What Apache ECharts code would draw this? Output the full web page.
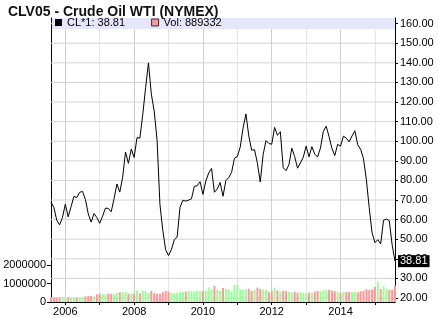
<!DOCTYPE html>
<html><head><meta charset="utf-8">
<script src="https://cdn.jsdelivr.net/npm/echarts@6/dist/echarts.min.js"></script>
<style>html,body{margin:0;padding:0;background:#fff}#c{width:438px;height:318px}</style>
</head><body><div id="c"></div>
<script>
// Monthly closes, Aug 2005 .. Aug 2015
const prices = [
  68.94, 66.24, 59.76, 57.32, 61.04,
  67.92, 61.41, 66.63, 71.88, 71.29, 73.93, 74.40, 70.26, 62.91, 58.73, 63.13, 61.05,
  58.14, 61.79, 65.87, 65.71, 64.01, 70.68, 78.21, 74.04, 81.66, 94.53, 88.71, 95.98,
  91.75, 101.84, 101.58, 113.46, 127.35, 140.00, 124.08, 115.46, 100.64, 67.81, 54.43, 44.60,
  41.68, 44.76, 49.66, 51.12, 66.31, 69.89, 69.45, 69.96, 70.61, 77.00, 77.28, 79.36,
  72.89, 79.66, 83.76, 86.15, 73.97, 75.63, 78.95, 71.92, 79.97, 81.43, 84.11, 91.38,
  92.19, 96.97, 106.72, 113.93, 102.70, 95.42, 95.70, 88.81, 79.20, 93.19, 100.36, 98.83,
  98.48, 107.07, 103.02, 104.87, 86.53, 84.96, 88.06, 96.47, 92.19, 86.24, 88.91, 91.82,
  97.49, 92.05, 97.23, 93.46, 91.97, 96.56, 105.03, 107.65, 102.33, 96.38, 92.72, 98.42,
  97.49, 102.59, 101.58, 99.74, 102.71, 105.37, 98.17, 95.96, 91.16, 80.54, 66.15, 53.27,
  48.24, 49.76, 47.60, 59.63, 60.30, 59.47, 47.12, 38.81
];
const volumes = [
  250000, 250000, 240000, 250000, 260000,
  250000, 240000, 250000, 250000, 240000, 250000, 240000, 300000, 320000, 330000, 300000, 420000,
  450000, 440000, 420000, 460000, 440000, 430000, 500000, 530000, 550000, 540000, 450000, 470000,
  470000, 640000, 470000, 620000, 600000, 500000, 600000, 480000, 440000, 430000, 540000, 610000,
  560000, 500000, 490000, 500000, 540000, 550000, 560000, 600000, 590000, 560000, 610000, 580000,
  600000, 620000, 800000, 680000, 870000, 650000, 600000, 750000, 700000, 680000, 560000, 920000,
  920000, 700000, 650000, 700000, 720000, 600000, 650000, 780000, 700000, 680000, 650000, 520000,
  600000, 780000, 620000, 560000, 600000, 600000, 560000, 520000, 560000, 500000, 540000, 500000,
  480000, 520000, 500000, 560000, 600000, 580000, 640000, 650000, 660000, 620000, 580000, 560000,
  480000, 540000, 540000, 560000, 540000, 540000, 520000, 580000, 600000, 700000, 650000, 680000,
  820000, 1100000, 700000, 880000, 720000, 660000, 660000, 889332
];
const priceTicks = [20, 30, 40, 50, 60, 70, 80, 90, 100, 110, 120, 130, 140, 150, 160];
const priceAxisRange = [17.96, 162.9];      // visible price extent of the plot
const volumeTicks = [0, 1000000, 2000000];
const volumeAxisRange = [0, 15350000];
const yearLabels = ['2006', '2008', '2010', '2012', '2014'];

const months = [];
for (let i = 0; i < prices.length; i++) {
  const m = 7 + i;
  months.push((2005 + Math.floor(m / 12)) + '-' + String(m % 12 + 1).padStart(2, '0'));
}
const isJan = (i, v) => v.endsWith('-01');
const isLabelJan = (i, v) => v.endsWith('-01') && yearLabels.indexOf(v.slice(0, 4)) >= 0;

const UP = '#99ff99', DOWN = '#ff9999';
const volData = volumes.map((v, i) => ({
  value: v,
  itemStyle: { color: (i > 0 && prices[i] > prices[i - 1]) ? UP : DOWN }
}));

const lineName = 'CL*1: ' + prices[prices.length - 1].toFixed(2);
const volName = 'Vol: ' + volumes[volumes.length - 1];
const FONT = '"Liberation Sans", Arial, sans-serif';

// horizontal price grid lines, drawn through the price axis scale
const gridLineSeries = priceTicks.map((t, k) => ({
  name: 'grid' + k, type: 'line', xAxisIndex: 0, yAxisIndex: 0, silent: true, z: 1,
  symbol: 'none', showSymbol: false, animation: false,
  lineStyle: { color: '#d4d4d4', width: 1, opacity: 1 },
  data: [[months[0], t], [months[months.length - 1], t]]
}));

const chart = echarts.init(document.getElementById('c'));
chart.setOption({
  animation: false,
  textStyle: { fontFamily: FONT },
  title: {
    text: 'CLV05 - Crude Oil WTI (NYMEX)', left: 3, top: 0,
    textStyle: { fontSize: 14, fontWeight: 'bold', color: '#111', fontFamily: FONT }
  },
  legend: {
    left: 55, top: 17, padding: 0, itemWidth: 7, itemHeight: 7, itemGap: 26, icon: 'rect', z: 6,
    textStyle: { fontSize: 11, color: '#000', fontFamily: FONT },
    data: [
      { name: lineName, icon: 'rect', itemStyle: { color: '#000' } },
      { name: volName, icon: 'rect', itemStyle: { color: DOWN, borderColor: '#333', borderWidth: 1 } }
    ]
  },
  graphic: [{
    type: 'rect', silent: true, z: 5,
    shape: { x: 52, y: 18, width: 343, height: 11 },
    style: { fill: '#e6e6fa' }
  }],
  grid: { left: 51, right: 43, top: 18, bottom: 16 },
  xAxis: {
    type: 'category', data: months, boundaryGap: false,
    axisLine: { onZero: false, lineStyle: { color: '#000' } },
    axisTick: { interval: isJan, length: 3, lineStyle: { color: '#000' } },
    axisLabel: { interval: isLabelJan, formatter: v => v.slice(0, 4), color: '#000', fontSize: 11, margin: 4, fontFamily: FONT },
    splitLine: { show: true, interval: isJan, lineStyle: { color: ['#d0d0d0', '#e6e6e6'] } }
  },
  yAxis: [
    {
      type: 'value', position: 'right', min: priceAxisRange[0], max: priceAxisRange[1],
      axisLine: { show: true, onZero: false, lineStyle: { color: '#000' } },
      axisTick: { show: true, customValues: priceTicks, length: 3, lineStyle: { color: '#000' } },
      axisLabel: { customValues: priceTicks, formatter: v => Number(v).toFixed(2), color: '#000', fontSize: 11, margin: 5, fontFamily: FONT },
      splitLine: { show: false }
    },
    {
      type: 'value', position: 'left', min: volumeAxisRange[0], max: volumeAxisRange[1],
      axisLine: { show: true, onZero: false, lineStyle: { color: '#000' } },
      axisTick: { show: true, customValues: volumeTicks, length: 4, lineStyle: { color: '#000' } },
      axisLabel: { customValues: volumeTicks, formatter: v => String(v), color: '#000', fontSize: 11, margin: 5, fontFamily: FONT },
      splitLine: { show: false }
    }
  ],
  series: [
    {
      name: lineName, type: 'line', xAxisIndex: 0, yAxisIndex: 0, data: prices,
      symbol: 'none', showSymbol: false, z: 4,
      lineStyle: { color: '#000', width: 1 }, itemStyle: { color: '#000' },
      endLabel: {
        show: true, formatter: p => Number(p.value).toFixed(2),
        color: '#fff', backgroundColor: '#000', padding: [1, 2, 0, 2], distance: 3, fontSize: 11, fontFamily: FONT
      }
    },
    {
      name: volName, type: 'bar', xAxisIndex: 0, yAxisIndex: 1, data: volData, z: 2,
      barWidth: 2, itemStyle: { color: DOWN }
    }
  ].concat(gridLineSeries)
});
</script>
</body></html>
